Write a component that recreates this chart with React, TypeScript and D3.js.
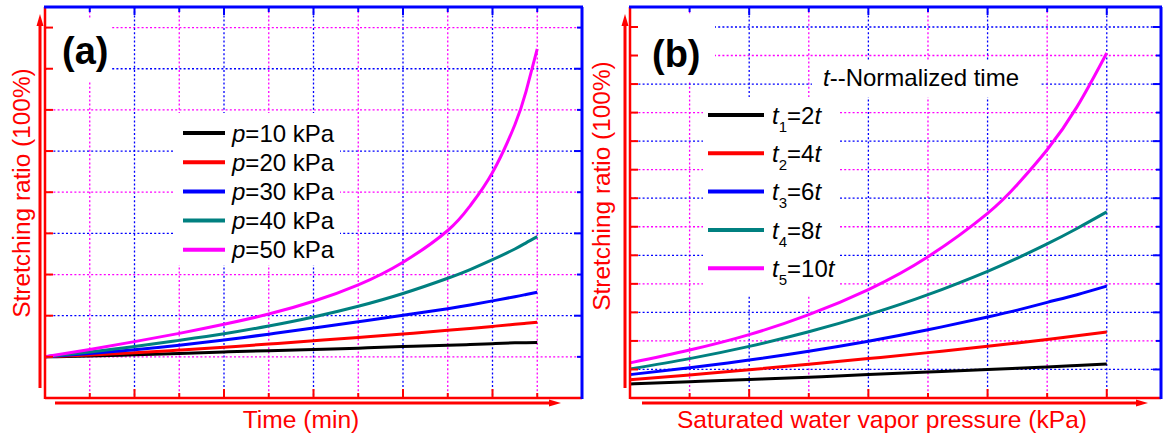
import React from 'react';
import * as d3 from 'd3';

// ---------- data: panel (a) ----------
const timeA = [0, 1, 2, 3, 4, 5, 6, 7, 8, 9, 9.5, 10, 10.5, 10.75, 11];
const p10 = [1.0, 1.02, 1.05, 1.08, 1.12, 1.15, 1.18, 1.21, 1.25, 1.28, 1.3, 1.32, 1.34, 1.345, 1.35];
const p20 = [1.0, 1.045, 1.1, 1.165, 1.235, 1.31, 1.39, 1.47, 1.555, 1.645, 1.69, 1.74, 1.79, 1.815, 1.84];
const p30 = [1.0, 1.08, 1.17, 1.28, 1.41, 1.55, 1.7, 1.85, 2.01, 2.17, 2.26, 2.36, 2.46, 2.515, 2.57];
const p40 = [1.0, 1.12, 1.25, 1.4, 1.56, 1.75, 1.97, 2.23, 2.54, 2.91, 3.12, 3.36, 3.62, 3.77, 3.92];
const p50 = [1.0, 1.18, 1.37, 1.57, 1.79, 2.04, 2.35, 2.75, 3.3, 4.07, 4.67, 5.48, 6.64, 7.45, 8.48];
const legendA = ['10', '20', '30', '40', '50'];

// ---------- data: panel (b) ----------
const pressureB = [0, 1, 2, 3, 4, 5, 6, 6.5, 7, 7.5, 8];
const t1 = [0.49, 0.57, 0.65, 0.73, 0.82, 0.91, 1.0, 1.045, 1.09, 1.14, 1.19];
const t2 = [0.64, 0.81, 0.99, 1.18, 1.38, 1.59, 1.81, 1.93, 2.05, 2.18, 2.31];
const t3 = [0.82, 1.06, 1.33, 1.64, 1.99, 2.39, 2.84, 3.08, 3.35, 3.62, 3.92];
const t4 = [1.02, 1.38, 1.81, 2.32, 2.92, 3.62, 4.44, 4.9, 5.4, 5.94, 6.52];
const t5 = [1.23, 1.68, 2.22, 2.92, 3.8, 4.95, 6.47, 7.48, 8.7, 10.2, 12.09];
const legendBSub = ['1', '2', '3', '4', '5'];
const legendBMul = ['2', '4', '6', '8', '10'];

const colors = ['#000000', '#ff0000', '#0000ff', '#008080', '#ff00ff'];
const FONT = 'Arial, "Liberation Sans", Helvetica, sans-serif';
const RED = '#ff0000';
const BLUE = '#0000ff';
const MAG = '#ff00ff';

type Cfg = {
  left: number; right: number; top: number; bottom: number;
  xMax: number; yMax: number; nx: number; ny: number;
  xMajorEven: boolean; yMajorEven: boolean;
  xs: number[]; series: number[][];
  boxes: number[][];
  xLabel: string; xLabelX: number;
  yLabelX: number; yLabelY: number;
  tag: string; tagX: number; tagY: number;
  vArrowX: number; hArrowX0: number; hArrowX1: number;
};

function Panel({ c, children }: { c: Cfg; children?: React.ReactNode }) {
  const x = d3.scaleLinear().domain([0, c.xMax]).range([c.left, c.right]);
  const y = d3.scaleLinear().domain([0, c.yMax]).range([c.bottom, c.top]);
  const xt = d3.range(1, c.nx + 1);
  const yt = d3.range(1, c.ny + 1);
  const isMajX = (v: number) => (v % 2 === 0) === c.xMajorEven;
  const isMajY = (v: number) => (v % 2 === 0) === c.yMajorEven;
  const line = d3.line<[number, number]>().x(d => x(d[0])).y(d => y(d[1])).curve(d3.curveNatural);
  const dash = '2,2.2';
  return (
    <g>
      {xt.map(v => (
        <line key={'gx' + v} x1={x(v)} x2={x(v)} y1={c.top} y2={c.bottom}
          stroke={isMajX(v) ? BLUE : MAG} strokeWidth={1.3} strokeDasharray={dash} />
      ))}
      {yt.map(v => (
        <line key={'gy' + v} x1={c.left} x2={c.right} y1={y(v)} y2={y(v)}
          stroke={isMajY(v) ? BLUE : MAG} strokeWidth={1.3} strokeDasharray={dash} />
      ))}
      {c.boxes.map((b, i) => (
        <rect key={'bx' + i} x={b[0]} y={b[1]} width={b[2] - b[0]} height={b[3] - b[1]} fill="#fff" />
      ))}
      {c.series.map((s, i) => (
        <path key={'s' + i} d={line(c.xs.map((xv, j) => [xv, s[j]] as [number, number])) || ''}
          fill="none" stroke={colors[i]} strokeWidth={3} strokeLinejoin="round" />
      ))}
      {xt.map(v => (
        <line key={'tt' + v} x1={x(v)} x2={x(v)} y1={c.top} y2={c.top + (isMajX(v) ? 8 : 5)} stroke={BLUE} strokeWidth={2} />
      ))}
      {xt.map(v => (
        <line key={'tb' + v} x1={x(v)} x2={x(v)} y1={c.bottom} y2={c.bottom - (isMajX(v) ? 9 : 5)} stroke={RED} strokeWidth={2} />
      ))}
      {yt.map(v => (
        <line key={'tl' + v} x1={c.left} x2={c.left + 8} y1={y(v)} y2={y(v)} stroke={RED} strokeWidth={2} />
      ))}
      {yt.map(v => (
        <line key={'tr' + v} x1={c.right} x2={c.right - (isMajY(v) ? 8 : 5)} y1={y(v)} y2={y(v)} stroke={BLUE} strokeWidth={2} />
      ))}
      <line x1={c.left} x2={c.left} y1={c.top} y2={c.bottom + 1} stroke={RED} strokeWidth={2.5} />
      <line x1={c.left} x2={c.right} y1={c.bottom} y2={c.bottom} stroke={RED} strokeWidth={2.5} />
      <line x1={c.right} x2={c.right} y1={c.top} y2={c.bottom + 1} stroke={BLUE} strokeWidth={3} />
      <line x1={c.left - 1} x2={c.right + 1} y1={c.top} y2={c.top} stroke={BLUE} strokeWidth={3} />
      <line x1={c.vArrowX} x2={c.vArrowX} y1={c.bottom - 10} y2={24} stroke={RED} strokeWidth={3} />
      <path d={`M${c.vArrowX - 3.5},26 L${c.vArrowX},14 L${c.vArrowX + 3.5},26 Z`} fill={RED} />
      <line x1={c.hArrowX0} x2={c.hArrowX1 - 10} y1={c.bottom + 5} y2={c.bottom + 5} stroke={RED} strokeWidth={3} />
      <path d={`M${c.hArrowX1 - 12},${c.bottom + 1.5} L${c.hArrowX1},${c.bottom + 5} L${c.hArrowX1 - 12},${c.bottom + 8.5} Z`} fill={RED} />
      <text x={c.xLabelX} y={428} textAnchor="middle" fontFamily={FONT} fontSize={24.6} fill={RED}>{c.xLabel}</text>
      <text transform={`translate(${c.yLabelX},${c.yLabelY}) rotate(-90)`} textAnchor="middle"
        fontFamily={FONT} fontSize={24.4} fill={RED}>Stretching ratio (100%)</text>
      <text x={c.tagX} y={c.tagY} fontFamily={FONT} fontSize={38} fontWeight="bold" fill="#000">{c.tag}</text>
      {children}
    </g>
  );
}

export default function App() {
  const cfgA: Cfg = {
    left: 45, right: 582, top: 7, bottom: 398, xMax: 12, yMax: 9.5, nx: 11, ny: 9,
    xMajorEven: true, yMajorEven: true,
    xs: timeA, series: [p10, p20, p30, p40, p50],
    boxes: [[47, 18, 112, 82], [175, 113, 340, 265]],
    xLabel: 'Time (min)', xLabelX: 301, yLabelX: 30, yLabelY: 193,
    tag: '(a)', tagX: 62, tagY: 64,
    vArrowX: 40, hArrowX0: 55, hArrowX1: 561,
  };
  const cfgB: Cfg = {
    left: 630, right: 1161, top: 7, bottom: 398, xMax: 8.91, yMax: 13.7, nx: 8, ny: 13,
    xMajorEven: true, yMajorEven: false,
    xs: pressureB, series: [t1, t2, t3, t4, t5],
    boxes: [[633, 15, 715, 82], [812, 60, 1040, 97], [703, 97, 840, 295]],
    xLabel: 'Saturated water vapor pressure (kPa)', xLabelX: 882, yLabelX: 610, yLabelY: 186,
    tag: '(b)', tagX: 652, tagY: 67,
    vArrowX: 625, hArrowX0: 642, hArrowX1: 1148,
  };
  return (
    <svg width={1163} height={439} style={{ position: 'absolute', left: 0, top: 0, background: '#fff' }}>
      <rect x={0} y={0} width={1163} height={439} fill="#fff" />
      <Panel c={cfgA}>
        {legendA.map((p, i) => (
          <g key={'la' + i}>
            <line x1={183} x2={225} y1={133 + i * 29.2} y2={133 + i * 29.2} stroke={colors[i]} strokeWidth={4} />
            <text x={232} y={133 + i * 29.2} dy="0.36em" fontFamily={FONT} fontSize={24} fill="#000">
              <tspan fontStyle="italic">p</tspan>={p} kPa
            </text>
          </g>
        ))}
      </Panel>
      <Panel c={cfgB}>
        <text x={823} y={86} fontFamily={FONT} fontSize={24} fill="#000">
          <tspan fontStyle="italic">t</tspan>--Normalized time
        </text>
        {legendBSub.map((s, i) => (
          <g key={'lb' + i}>
            <line x1={708} x2={764} y1={115 + i * 38.3} y2={115 + i * 38.3} stroke={colors[i]} strokeWidth={4} />
            <text x={772} y={115 + i * 38.3} dy="0.36em" fontFamily={FONT} fontSize={24} fill="#000">
              <tspan fontStyle="italic">t</tspan>
              <tspan fontSize={15} dy={8}>{s}</tspan>
              <tspan dy={-8}>={legendBMul[i]}</tspan>
              <tspan fontStyle="italic">t</tspan>
            </text>
          </g>
        ))}
      </Panel>
    </svg>
  );
}
